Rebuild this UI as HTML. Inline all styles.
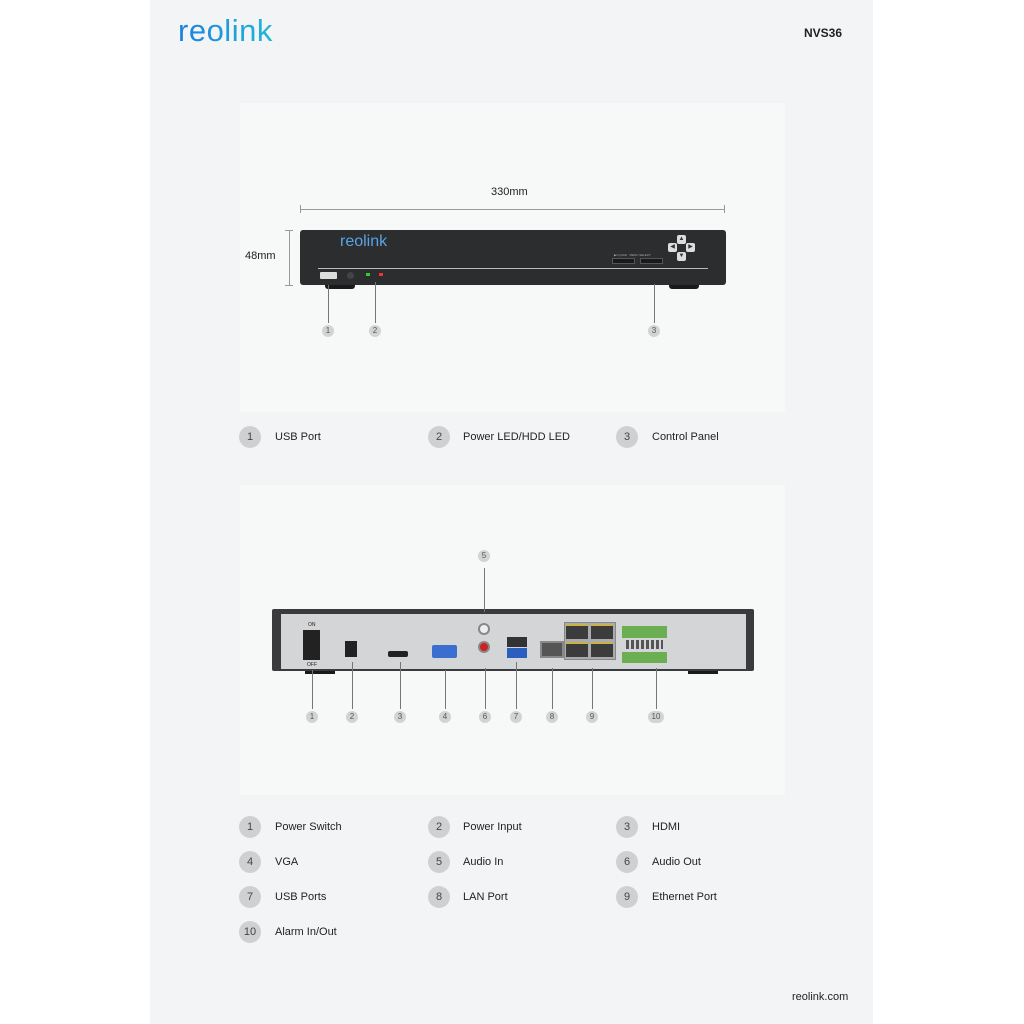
<!DOCTYPE html>
<html><head><meta charset="utf-8"><style>
*{margin:0;padding:0;box-sizing:border-box}
body{width:1024px;height:1024px;background:#fff;position:relative;font-family:"Liberation Sans",sans-serif;color:#222;overflow:hidden}
.page{position:absolute;left:150px;top:0;width:723px;height:1024px;background:#f3f4f5}
.box{position:absolute;left:240px;width:545px;background:#f7f8f8}
.a{position:absolute}
.c{position:absolute;width:22px;height:22px;border-radius:50%;background:#cfd0d1;font-size:11px;color:#444;text-align:center;line-height:22px}
.sc{position:absolute;width:12px;height:12px;border-radius:50%;background:#d2d3d4;font-size:8px;color:#555;text-align:center;line-height:12px}
.l{position:absolute;font-size:11px;color:#222}
.v{position:absolute;width:1px;background:#777}
.rj{position:absolute;width:22px;height:15px;background:#3c3c3c;border-top:2px solid #c9b24a}
</style></head><body>
<div class="page"></div>
<div class="a" style="left:178px;top:13px;font-size:31px;font-weight:normal;letter-spacing:0.5px;background:linear-gradient(90deg,#1e7fe0,#1fb8d8);-webkit-background-clip:text;background-clip:text;color:transparent">reolink</div>
<div class="a" style="left:804px;top:26px;font-size:12px;font-weight:bold">NVS36</div>
<div class="a" style="left:792px;top:991px;font-size:11px">reolink.com</div>

<div class="box" style="top:103px;height:309px"></div>
<div class="box" style="top:485px;height:310px"></div>

<!-- front dims -->
<div class="a" style="left:491px;top:186px;font-size:11px">330mm</div>
<div class="a" style="left:300px;top:209px;width:425px;height:1px;background:#999"></div>
<div class="a" style="left:300px;top:205px;width:1px;height:8px;background:#999"></div>
<div class="a" style="left:724px;top:205px;width:1px;height:8px;background:#999"></div>
<div class="a" style="left:245px;top:250px;font-size:11px">48mm</div>
<div class="a" style="left:289px;top:230px;width:1px;height:56px;background:#999"></div>
<div class="a" style="left:285px;top:230px;width:8px;height:1px;background:#999"></div>
<div class="a" style="left:285px;top:285px;width:8px;height:1px;background:#999"></div>

<!-- front device -->
<div class="a" style="left:325px;top:283px;width:30px;height:6px;background:#1a1a1a;border-radius:0 0 3px 3px"></div>
<div class="a" style="left:669px;top:283px;width:30px;height:6px;background:#1a1a1a;border-radius:0 0 3px 3px"></div>
<div class="a" style="left:300px;top:230px;width:426px;height:55px;background:#2c2d2f;border-radius:3px"></div>
<div class="a" style="left:318px;top:268px;width:390px;height:1px;background:#bbb"></div>
<div class="a" style="left:340px;top:233px;font-size:16px;color:#5aa3e6">reolink</div>
<div class="a" style="left:320px;top:272px;width:17px;height:7px;background:#ddd;border-radius:1px"></div>
<div class="a" style="left:347px;top:272px;width:7px;height:7px;background:#444;border-radius:50%"></div>
<div class="a" style="left:366px;top:273px;width:4px;height:3px;background:#3c3"></div>
<div class="a" style="left:379px;top:273px;width:4px;height:3px;background:#e33"></div>
<div class="a" style="left:612px;top:258px;width:23px;height:6px;background:#1a1a1a;border:1px solid #555"></div>
<div class="a" style="left:640px;top:258px;width:23px;height:6px;background:#1a1a1a;border:1px solid #555"></div>
<div class="a" style="left:614px;top:253px;font-size:3px;color:#aaa">▶‖ QUAD &nbsp; MENU SELECT</div>
<div class="a" style="left:677px;top:235px;width:9px;height:9px;background:#ddd;border-radius:2px;font-size:6px;text-align:center;line-height:9px;color:#333">▲</div>
<div class="a" style="left:668px;top:243px;width:9px;height:9px;background:#ddd;border-radius:2px;font-size:6px;text-align:center;line-height:9px;color:#333">◀</div>
<div class="a" style="left:686px;top:243px;width:9px;height:9px;background:#ddd;border-radius:2px;font-size:6px;text-align:center;line-height:9px;color:#333">▶</div>
<div class="a" style="left:677px;top:252px;width:9px;height:9px;background:#ddd;border-radius:2px;font-size:6px;text-align:center;line-height:9px;color:#333">▼</div>

<div class="v" style="left:328px;top:285px;height:38px"></div>
<div class="v" style="left:375px;top:282px;height:41px"></div>
<div class="v" style="left:654px;top:284px;height:39px"></div>
<div class="sc" style="left:322px;top:325px">1</div>
<div class="sc" style="left:369px;top:325px">2</div>
<div class="sc" style="left:648px;top:325px">3</div>

<div class="c" style="left:239px;top:426px">1</div><div class="l" style="left:275px;top:431px">USB Port</div>
<div class="c" style="left:428px;top:426px">2</div><div class="l" style="left:463px;top:431px">Power LED/HDD LED</div>
<div class="c" style="left:616px;top:426px">3</div><div class="l" style="left:652px;top:431px">Control Panel</div>

<!-- back device -->
<div class="a" style="left:305px;top:668px;width:30px;height:6px;background:#1a1a1a"></div>
<div class="a" style="left:688px;top:668px;width:30px;height:6px;background:#1a1a1a"></div>
<div class="a" style="left:272px;top:609px;width:482px;height:62px;background:#3a3b3d;border-radius:2px"></div>
<div class="a" style="left:281px;top:614px;width:465px;height:55px;background:#d3d5d7"></div>
<div class="a" style="left:303px;top:630px;width:17px;height:30px;background:#222"></div>
<div class="a" style="left:308px;top:622px;font-size:5px">ON</div>
<div class="a" style="left:307px;top:662px;font-size:5px">OFF</div>
<div class="a" style="left:345px;top:641px;width:12px;height:16px;background:#222"></div>
<div class="a" style="left:388px;top:651px;width:20px;height:6px;background:#222;border-radius:2px"></div>
<div class="a" style="left:432px;top:645px;width:25px;height:13px;background:#3a6fd0;border-radius:2px"></div>
<div class="a" style="left:478px;top:623px;width:12px;height:12px;background:#eee;border:2px solid #888;border-radius:50%"></div>
<div class="a" style="left:478px;top:641px;width:12px;height:12px;background:#c22;border:2px solid #888;border-radius:50%"></div>
<div class="a" style="left:507px;top:637px;width:20px;height:10px;background:#333"></div>
<div class="a" style="left:507px;top:648px;width:20px;height:10px;background:#2a5fc0"></div>
<div class="a" style="left:540px;top:641px;width:24px;height:17px;background:#555;border:2px solid #888"></div>
<div class="a" style="left:564px;top:622px;width:52px;height:38px;background:#a9abad;border:1px solid #888"></div>
<div class="rj" style="left:566px;top:624px"></div>
<div class="rj" style="left:591px;top:624px"></div>
<div class="rj" style="left:566px;top:642px"></div>
<div class="rj" style="left:591px;top:642px"></div>
<div class="a" style="left:622px;top:626px;width:45px;height:12px;background:#6cae52"></div>
<div class="a" style="left:626px;top:640px;width:37px;height:9px;background:repeating-linear-gradient(90deg,#555 0 3px,transparent 3px 5px)"></div>
<div class="a" style="left:622px;top:652px;width:45px;height:11px;background:#6cae52"></div>

<div class="v" style="left:484px;top:568px;height:44px"></div>
<div class="sc" style="left:478px;top:550px">5</div>
<div class="v" style="left:312px;top:670px;height:39px"></div>
<div class="v" style="left:352px;top:662px;height:47px"></div>
<div class="v" style="left:400px;top:662px;height:47px"></div>
<div class="v" style="left:445px;top:670px;height:39px"></div>
<div class="v" style="left:485px;top:668px;height:41px"></div>
<div class="v" style="left:516px;top:662px;height:47px"></div>
<div class="v" style="left:552px;top:668px;height:41px"></div>
<div class="v" style="left:592px;top:668px;height:41px"></div>
<div class="v" style="left:656px;top:668px;height:41px"></div>
<div class="sc" style="left:306px;top:711px">1</div>
<div class="sc" style="left:346px;top:711px">2</div>
<div class="sc" style="left:394px;top:711px">3</div>
<div class="sc" style="left:439px;top:711px">4</div>
<div class="sc" style="left:479px;top:711px">6</div>
<div class="sc" style="left:510px;top:711px">7</div>
<div class="sc" style="left:546px;top:711px">8</div>
<div class="sc" style="left:586px;top:711px">9</div>
<div class="sc" style="left:648px;top:711px;width:16px;border-radius:6px">10</div>

<div class="c" style="left:239px;top:816px">1</div><div class="l" style="left:275px;top:821px">Power Switch</div>
<div class="c" style="left:428px;top:816px">2</div><div class="l" style="left:463px;top:821px">Power Input</div>
<div class="c" style="left:616px;top:816px">3</div><div class="l" style="left:652px;top:821px">HDMI</div>
<div class="c" style="left:239px;top:851px">4</div><div class="l" style="left:275px;top:856px">VGA</div>
<div class="c" style="left:428px;top:851px">5</div><div class="l" style="left:463px;top:856px">Audio In</div>
<div class="c" style="left:616px;top:851px">6</div><div class="l" style="left:652px;top:856px">Audio Out</div>
<div class="c" style="left:239px;top:886px">7</div><div class="l" style="left:275px;top:891px">USB Ports</div>
<div class="c" style="left:428px;top:886px">8</div><div class="l" style="left:463px;top:891px">LAN Port</div>
<div class="c" style="left:616px;top:886px">9</div><div class="l" style="left:652px;top:891px">Ethernet Port</div>
<div class="c" style="left:239px;top:921px">10</div><div class="l" style="left:275px;top:926px">Alarm In/Out</div>
</body></html>
